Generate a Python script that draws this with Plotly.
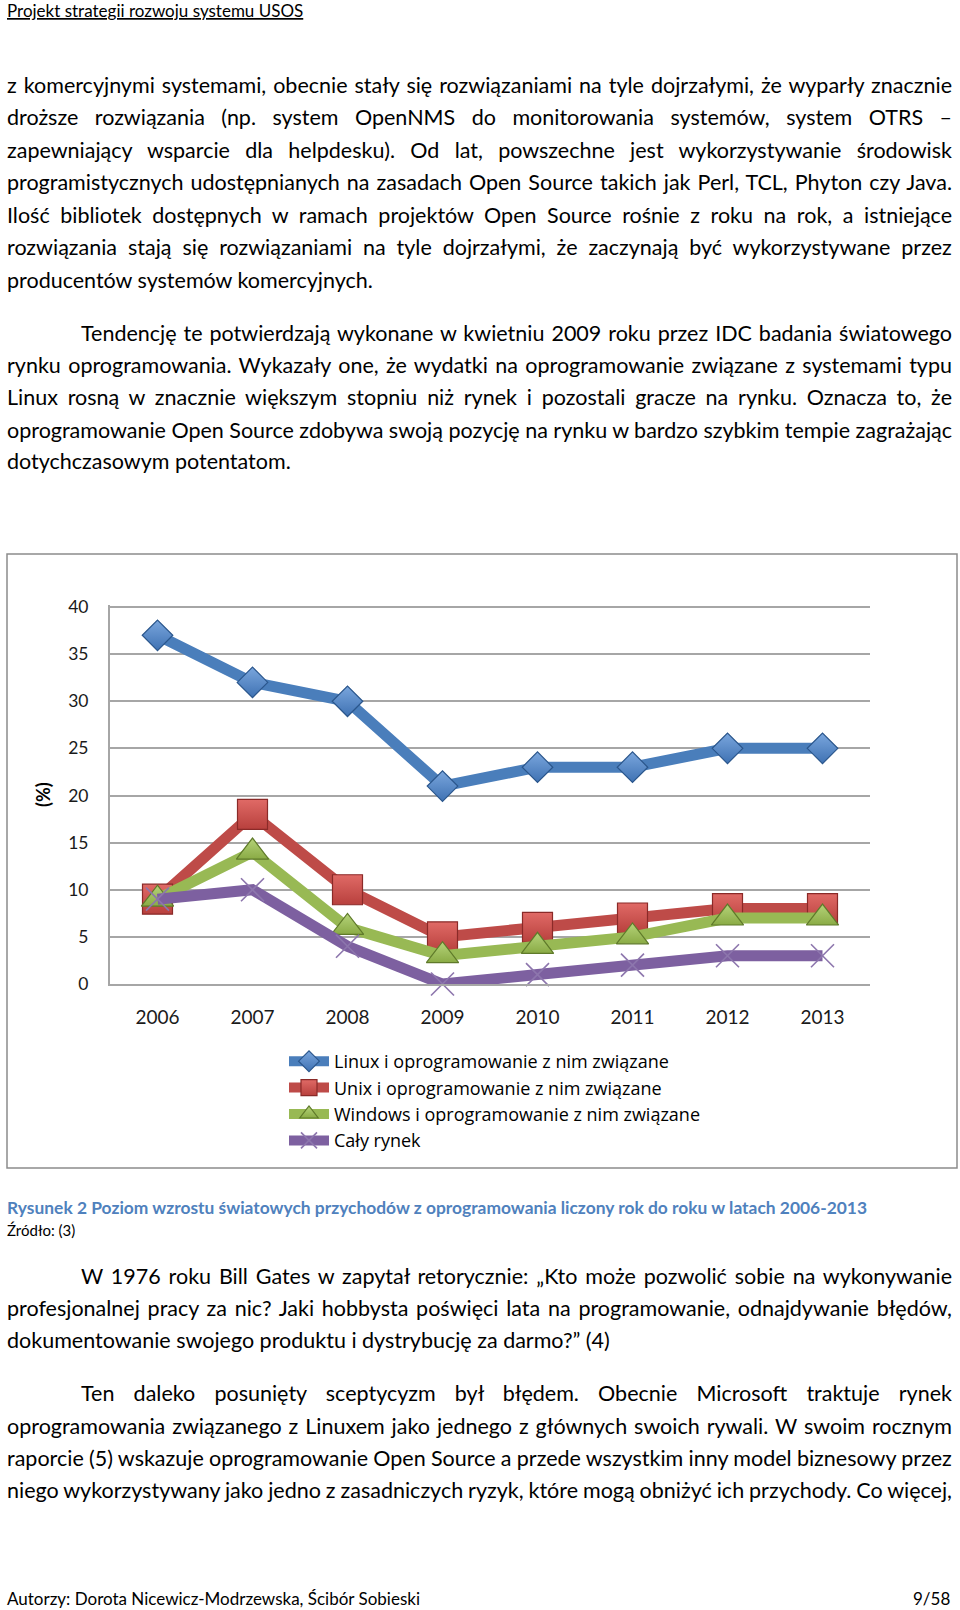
import json
import plotly.graph_objects as go

W, H = 960, 1610

years = ["2006", "2007", "2008", "2009", "2010", "2011", "2012", "2013"]
linux = [37, 32, 30, 21, 23, 23, 25, 25]
unix = [9, 18, 10, 5, 6, 7, 8, 8]
windows = [9, 14, 6, 3, 4, 5, 7, 7]
market = [9, 10, 4, 0, 1, 2, 3, 3]
series_names = [
    "Linux i oprogramowanie z nim związane",
    "Unix i oprogramowanie z nim związane",
    "Windows i oprogramowanie z nim związane",
    "Cały rynek",
]
y_ticks = [0, 5, 10, 15, 20, 25, 30, 35, 40]

# body text lines: (text, left px, center y px, justified)
body_lines = [
    ("z komercyjnymi systemami, obecnie stały się rozwiązaniami na tyle dojrzałymi, że wyparły znacznie", 5, 85, True),
    ("droższe rozwiązania (np. system OpenNMS do monitorowania systemów, system OTRS –", 5, 117.5, True),
    ("zapewniający wsparcie dla helpdesku). Od lat, powszechne jest wykorzystywanie środowisk", 5, 150, True),
    ("programistycznych udostępnianych na zasadach Open Source takich jak Perl, TCL, Phyton czy Java.", 5, 182.5, True),
    ("Ilość bibliotek dostępnych w ramach projektów Open Source rośnie z roku na rok, a istniejące", 5, 214.5, True),
    ("rozwiązania stają się rozwiązaniami na tyle dojrzałymi, że zaczynają być wykorzystywane przez", 5, 247.5, True),
    ("producentów systemów komercyjnych.", 5, 280, False),
    ("Tendencję te potwierdzają wykonane w kwietniu 2009 roku przez IDC badania światowego", 79, 333, True),
    ("rynku oprogramowania. Wykazały one, że wydatki na oprogramowanie związane z systemami typu", 5, 365, True),
    ("Linux rosną w znacznie większym stopniu niż rynek i pozostali gracze na rynku. Oznacza to, że", 5, 397, True),
    ("oprogramowanie Open Source zdobywa swoją pozycję na rynku w bardzo szybkim tempie zagrażając", 5, 430, True),
    ("dotychczasowym potentatom.", 5, 461.5, False),
    ("W 1976 roku Bill Gates w zapytał retorycznie: „Kto może pozwolić sobie na wykonywanie", 79, 1275.5, True),
    ("profesjonalnej pracy za nic? Jaki hobbysta poświęci lata na programowanie, odnajdywanie błędów,", 5, 1307.5, True),
    ("dokumentowanie swojego produktu i dystrybucję za darmo?” (4)", 5, 1340, False),
    ("Ten daleko posunięty sceptycyzm był błędem. Obecnie Microsoft traktuje rynek", 79, 1393, True),
    ("oprogramowania związanego z Linuxem jako jednego z głównych swoich rywali. W swoim rocznym", 5, 1425.5, True),
    ("raporcie (5) wskazuje oprogramowanie Open Source a przede wszystkim inny model biznesowy przez", 5, 1458, True),
    ("niego wykorzystywany jako jedno z zasadniczych ryzyk, które mogą obniżyć ich przychody. Co więcej,", 5, 1490, True),
]

FONT = "Lato"
BODY_SIZE = 21.5

def px(x):
    return x / W

def py(y):
    return 1 - y / H

fig = go.Figure()

styles = [
    dict(line="#4a7ebb", fill="#3f72b3", grad="#7aa6dd", edge="#2a568c", symbol="diamond", size=23.5),
    dict(line="#be4b48", fill="#b8403d", grad="#e06a66", edge="#8a2a28", symbol="square", size=30),
    dict(line="#98b954", fill="#8aab45", grad="#b5d37a", edge="#5f7a2a", symbol="triangle-up", size=28),
    dict(line="#7d60a0", fill="#8d76ad", grad="#8d76ad", edge="#8d76ad", symbol="x-thin", size=23),
]
for name, vals, st in zip(series_names, [linux, unix, windows, market], styles):
    if st["symbol"] == "x-thin":
        marker = dict(symbol="x-thin", size=st["size"], color=st["fill"],
                      line=dict(color=st["edge"], width=1.6))
    else:
        marker = dict(symbol=st["symbol"], size=st["size"], color=st["grad"],
                      gradient=dict(type="vertical", color=st["fill"]),
                      line=dict(color=st["edge"], width=1.2))
    fig.add_trace(go.Scatter(
        x=years, y=vals, name=name, mode="lines+markers",
        line=dict(color=st["line"], width=11),
        marker=marker, cliponaxis=False,
    ))

annotations = []
justify_idx = []
for text, x, y, just in body_lines:
    if just:
        justify_idx.append(len(annotations))
    annotations.append(dict(
        text=text, x=px(x), y=py(y), xref="paper", yref="paper",
        xanchor="left", yanchor="middle", showarrow=False, align="left",
        font=dict(family=FONT, size=BODY_SIZE, color="#000000"),
    ))

# header, caption, source, footer
annotations.append(dict(
    text="Projekt strategii rozwoju systemu USOS", x=px(5), y=py(10.5),
    xref="paper", yref="paper", xanchor="left", yanchor="middle", showarrow=False,
    font=dict(family=FONT, size=17, color="#000000", lineposition="under"),
))
annotations.append(dict(
    text="<b>Rysunek 2 Poziom wzrostu światowych przychodów z oprogramowania liczony rok do roku w latach 2006-2013</b>",
    x=px(5), y=py(1207), xref="paper", yref="paper", xanchor="left", yanchor="middle",
    showarrow=False, font=dict(family=FONT, size=17.4, color="#4f81bd"),
))
annotations.append(dict(
    text="Źródło: (3)", x=px(5), y=py(1229.5), xref="paper", yref="paper",
    xanchor="left", yanchor="middle", showarrow=False,
    font=dict(family=FONT, size=15, color="#000000"),
))
annotations.append(dict(
    text="Autorzy: Dorota Nicewicz-Modrzewska, Ścibór Sobieski", x=px(5), y=py(1598),
    xref="paper", yref="paper", xanchor="left", yanchor="middle", showarrow=False,
    font=dict(family=FONT, size=17, color="#000000"),
))
annotations.append(dict(
    text="9/58", x=px(952), y=py(1598), xref="paper", yref="paper",
    xanchor="right", yanchor="middle", showarrow=False,
    font=dict(family=FONT, size=17, color="#000000"),
))
annotations.append(dict(
    text="<b>(%)</b>", x=px(43), y=py(795), xref="paper", yref="paper",
    xanchor="center", yanchor="middle", showarrow=False, textangle=-90,
    font=dict(family=FONT, size=18, color="#000000"),
))

# plot area pixel geometry
Y0_PX, Y40_PX = 984, 607
YMAX = 40.25
ytop_px = Y0_PX - (YMAX / 40) * (Y0_PX - Y40_PX)

grid = "#a6a6a6"
fig.update_layout(
    width=W, height=H,
    margin=dict(l=0, r=0, t=0, b=0, pad=0, autoexpand=False),
    paper_bgcolor="white", plot_bgcolor="white",
    font=dict(family=FONT, size=18, color="#1a1a1a"),
    xaxis=dict(
        domain=[px(110), px(870)], type="category", range=[-0.5, 7.5],
        showgrid=False, showline=True, linecolor=grid, linewidth=2,
        ticks="", ticklabelstandoff=15, tickfont=dict(size=19, family=FONT),
        zeroline=False, fixedrange=True, automargin=False,
    ),
    yaxis=dict(
        domain=[py(Y0_PX), py(ytop_px)], range=[0, YMAX], tickvals=y_ticks,
        showgrid=True, gridcolor=grid, gridwidth=2,
        showline=True, linecolor=grid, linewidth=2, zeroline=False,
        ticks="", ticklabelstandoff=16, tickfont=dict(size=17.5, family=FONT),
        fixedrange=True, automargin=False,
    ),
    legend=dict(
        x=px(284), y=py(1043), xanchor="left", yanchor="top",
        bgcolor="rgba(0,0,0,0)", font=dict(family="Open Sans", size=18, color="#000000"),
        itemwidth=40, traceorder="normal",
    ),
    shapes=[dict(
        type="rect", xref="paper", yref="paper",
        x0=px(7), x1=px(957), y0=py(1168), y1=py(554),
        line=dict(color="#8c8c8c", width=1.5), fillcolor="rgba(0,0,0,0)", layer="below",
    )],
    annotations=annotations,
)

post = """
document.body.style.margin = '0';
var gd = document.getElementById('{plot_id}');
var J = %s;
var svg = gd.querySelector('.main-svg');
var left = svg.getBoundingClientRect().left;
var R = 952;
gd.querySelectorAll('g.annotation').forEach(function(g){
  var idx = +g.getAttribute('data-index');
  if (J.indexOf(idx) < 0) return;
  var t = g.querySelector('text.annotation-text');
  if (!t) return;
  var n = (t.textContent.match(/ /g) || []).length;
  var r = t.getBoundingClientRect().right - left;
  if (n > 0) t.style.wordSpacing = ((R - r) / n) + 'px';
});
""" % json.dumps(justify_idx)

fig.write_html("out.html", post_script=post, config={"displayModeBar": False})
